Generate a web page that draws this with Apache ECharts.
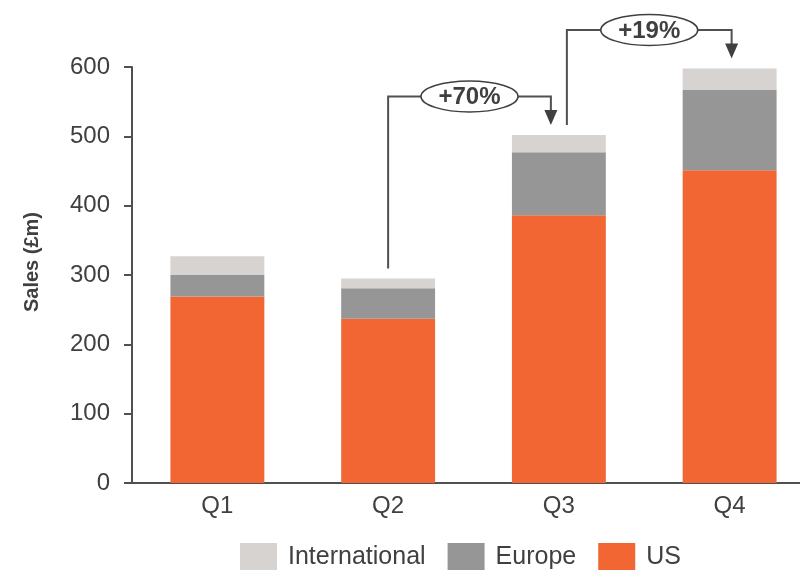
<!DOCTYPE html>
<html>
<head>
<meta charset="utf-8">
<script src="https://cdn.jsdelivr.net/npm/echarts@6/dist/echarts.min.js"></script>
<style>
  html, body { margin: 0; padding: 0; background: #ffffff; }
  #chart { width: 800px; height: 570px; }
</style>
</head>
<body>
<div id="chart"></div>
<script>
// Quarterly sales by region (£m)
const quarters = ['Q1', 'Q2', 'Q3', 'Q4'];
const usSales = [269, 237, 386, 451];
const europeSales = [31, 44, 91, 116];
const internationalSales = [27, 14, 25, 31];
// Growth call-outs between quarters (from index -> to index)
const growthPairs = [[1, 2], [2, 3]];

const totals = quarters.map((_, i) => usSales[i] + europeSales[i] + internationalSales[i]);
const growthData = growthPairs.map(([a, b]) => [a, b, totals[a], totals[b],
  '+' + Math.round((totals[b] / totals[a] - 1) * 100) + '%']);

const TEXT = '#404040';
const LINE = '#505050';
const FONT = '"Liberation Sans", Arial, sans-serif';

const chart = echarts.init(document.getElementById('chart'));

// Bars receiving an arrow while also starting a new connector get the two lines side by side
const incoming = new Set(growthPairs.map(p => p[1]));
const outgoing = new Set(growthPairs.map(p => p[0]));

function renderGrowth(params, api) {
  const from = api.value(0), to = api.value(1);
  const p1 = api.coord([from, api.value(2)]);
  const p2 = api.coord([to, api.value(3)]);
  const label = growthData[params.dataIndex][4];
  const xs = p1[0] + (incoming.has(from) ? 8 : 0);
  const xe = p2[0] + (outgoing.has(to) ? -8 : 2);
  const yStart = p1[1] - 10;
  const yTip = p2[1] - 10;
  const yTop = Math.min(p1[1], p2[1]) - 38.5;
  const headH = 15, headW = 13;
  const cx = (xs + xe) / 2;
  return {
    type: 'group',
    children: [
      {
        type: 'polyline',
        shape: { points: [[xs, yStart], [xs, yTop], [xe, yTop], [xe, yTip - headH + 1]] },
        style: { stroke: LINE, lineWidth: 2, fill: null }
      },
      {
        type: 'polygon',
        shape: { points: [[xe - headW / 2, yTip - headH], [xe + headW / 2, yTip - headH], [xe, yTip]] },
        style: { fill: TEXT }
      },
      {
        type: 'ellipse',
        shape: { cx: cx, cy: yTop, rx: 48.5, ry: 15.5 },
        style: { fill: '#ffffff', stroke: TEXT, lineWidth: 1.5 }
      },
      {
        type: 'text',
        x: cx, y: yTop + 1,
        style: {
          text: label, fill: TEXT, fontSize: 24, fontWeight: 'bold', fontFamily: FONT,
          align: 'center', verticalAlign: 'middle'
        }
      }
    ]
  };
}

const option = {
  animation: false,
  backgroundColor: '#ffffff',
  textStyle: { fontFamily: FONT },
  grid: { left: 132, width: 683, top: 67, bottom: 87, containLabel: false, outerBoundsMode: 'none' },
  legend: {
    data: ['International', 'Europe', 'US'],
    left: 235, top: 538,
    itemWidth: 37, itemHeight: 28, itemGap: 22,
    icon: 'rect',
    textStyle: { fontSize: 25, color: TEXT, fontFamily: FONT, padding: [0, 0, 0, 6] }
  },
  xAxis: {
    type: 'category',
    data: quarters,
    axisLine: { lineStyle: { color: LINE, width: 2 } },
    axisTick: { show: false },
    axisLabel: { fontSize: 24, color: TEXT, margin: 11, fontFamily: FONT }
  },
  yAxis: {
    type: 'value',
    min: 0, max: 600, interval: 100,
    name: 'Sales (£m)',
    nameLocation: 'middle',
    nameGap: 90,
    nameRotate: 90,
    nameTextStyle: { fontSize: 20, fontWeight: 'bold', color: TEXT, fontFamily: FONT, padding: [0, 0, 0, 26] },
    axisLine: { show: true, lineStyle: { color: LINE, width: 2 } },
    axisTick: { show: true, length: 8, lineStyle: { color: LINE, width: 2 } },
    axisLabel: { fontSize: 24, color: TEXT, margin: 22, fontFamily: FONT },
    splitLine: { show: false }
  },
  series: [
    { name: 'US', type: 'bar', stack: 'sales', barWidth: '55%', data: usSales,
      itemStyle: { color: '#F26633' } },
    { name: 'Europe', type: 'bar', stack: 'sales', data: europeSales,
      itemStyle: { color: '#969696' } },
    { name: 'International', type: 'bar', stack: 'sales', data: internationalSales,
      itemStyle: { color: '#D6D3D0' } },
    { name: 'growth', type: 'custom', renderItem: renderGrowth, data: growthData,
      encode: { x: 0, y: 2 }, clip: false, silent: true, z: 10 }
  ]
};

chart.setOption(option);
</script>
</body>
</html>
